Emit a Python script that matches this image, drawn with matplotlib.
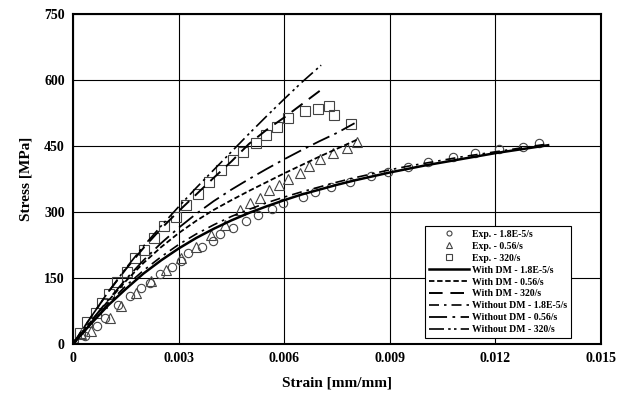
import matplotlib
matplotlib.use("Agg")
import matplotlib.pyplot as plt

plt.rcParams['font.family'] = ['Liberation Serif', 'DejaVu Serif']

# experimental points
exp_slow_x = [0, 0.00034, 0.00068, 0.00091, 0.00128, 0.00162, 0.00193, 0.00219, 0.00247, 0.00281,
              0.00307, 0.00327, 0.00366, 0.00398, 0.00418, 0.00455, 0.00491, 0.00526, 0.00565, 0.00597,
              0.00653, 0.00688, 0.00733, 0.00787, 0.00847, 0.00895, 0.00952, 0.01009, 0.0108, 0.01142,
              0.0121, 0.01278, 0.01324]
exp_slow_y = [0, 18, 41, 59, 89, 109, 127, 139, 159, 175,
              189, 207, 220, 234, 250, 264, 280, 293, 307, 320,
              334, 345, 357, 368, 382, 391, 402, 414, 425, 434,
              443, 448, 457]

exp_mid_x = [0, 0.00023, 0.0005, 0.00105, 0.00136, 0.00179, 0.00222, 0.00264, 0.00307, 0.0035,
             0.00392, 0.00432, 0.00474, 0.00503, 0.00531, 0.00557, 0.00585, 0.00611, 0.00645, 0.0067,
             0.00702, 0.00739, 0.00778, 0.00807]
exp_mid_y = [0, 23, 30, 59, 86, 116, 143, 168, 195, 220,
             248, 270, 305, 320, 332, 350, 361, 375, 389, 405,
             420, 434, 445, 459]

exp_fast_x = [0, 0.0002, 0.0004, 0.00065, 0.00082, 0.00102, 0.00125, 0.00153, 0.00176, 0.00202,
              0.0023, 0.00259, 0.00293, 0.00321, 0.00355, 0.00386, 0.0042, 0.00455, 0.00483, 0.0052,
              0.00548, 0.0058, 0.0061, 0.00659, 0.00696, 0.00727, 0.00741, 0.0079]
exp_fast_y = [0, 25, 50, 70, 93, 114, 141, 164, 195, 214,
              241, 268, 289, 316, 341, 368, 395, 418, 436, 457,
              475, 493, 514, 530, 534, 541, 520, 500]

# model curves
dm_slow_x = [0, 0.0005, 0.001, 0.0015, 0.002, 0.0025, 0.003, 0.0035, 0.004, 0.0045, 0.005, 0.0055, 0.006,
             0.0065, 0.007, 0.0075, 0.008, 0.0085, 0.009, 0.0095, 0.01, 0.0105, 0.011, 0.0115, 0.012,
             0.0125, 0.013, 0.0135]
dm_slow_y = [0, 45, 88, 125, 160, 190, 217, 241, 262, 281, 298, 313, 327,
             340, 351, 362, 372, 381, 390, 398, 406, 413, 420, 427, 434,
             440, 446, 452]
nodm_slow_y = [0, 47, 92, 132, 167, 198, 226, 250, 271, 290, 306, 321, 334,
               346, 357, 368, 378, 387, 396, 404, 411, 418, 425, 431, 437,
               443, 449, 455]

dm_mid_x = [0, 0.0005, 0.001, 0.0015, 0.002, 0.0025, 0.003, 0.0035, 0.004, 0.0045, 0.005, 0.0055, 0.006,
            0.0065, 0.007, 0.0075, 0.008, 0.0081]
dm_mid_y = [0, 50, 98, 143, 184, 220, 252, 280, 305, 327, 348, 368, 388,
            407, 426, 444, 462, 466]
nodm_mid_x = [0, 0.0005, 0.001, 0.0015, 0.002, 0.0025, 0.003, 0.0035, 0.004, 0.0045, 0.005, 0.0055, 0.006,
              0.0065, 0.007, 0.0075, 0.008]
nodm_mid_y = [0, 51, 100, 147, 190, 229, 264, 296, 325, 351, 375, 398, 420,
              441, 461, 480, 502]

dm_fast_x = [0, 0.0005, 0.001, 0.0015, 0.002, 0.0025, 0.003, 0.0035, 0.004, 0.0045, 0.005, 0.0055, 0.006,
             0.0065, 0.007, 0.00707]
dm_fast_y = [0, 60, 118, 170, 218, 262, 302, 340, 378, 415, 455, 487, 515,
             545, 575, 579]
nodm_fast_x = [0, 0.0005, 0.001, 0.0015, 0.002, 0.0025, 0.003, 0.0035, 0.004, 0.0045, 0.005, 0.0055, 0.006,
               0.0065, 0.00705]
nodm_fast_y = [0, 60, 118, 172, 222, 268, 312, 355, 396, 437, 478, 518, 557,
               595, 634]

fig = plt.figure(figsize=(6.24, 3.94), dpi=100)
ax = fig.add_axes([0.117, 0.127, 0.846, 0.837])

mk = dict(linestyle='none', markerfacecolor='none', markeredgecolor='#444444', markeredgewidth=0.8)
ax.plot(exp_slow_x, exp_slow_y, marker='o', markersize=6, label='Exp. - 1.8E-5/s', **mk)
ax.plot(exp_mid_x, exp_mid_y, marker='^', markersize=7, label='Exp. - 0.56/s', **mk)
ax.plot(exp_fast_x, exp_fast_y, marker='s', markersize=7, label='Exp. - 320/s', **mk)

ax.plot(dm_slow_x, dm_slow_y, color='black', lw=1.8, linestyle='-', label='With DM - 1.8E-5/s')
ax.plot(dm_mid_x, dm_mid_y, color='black', lw=1.3, linestyle=(0, (3, 1.5)), label='With DM - 0.56/s')
ax.plot(dm_fast_x, dm_fast_y, color='black', lw=1.4, linestyle=(0, (7, 4)), label='With DM - 320/s')
ax.plot(dm_slow_x, nodm_slow_y, color='black', lw=1.2, linestyle=(0, (6, 3, 1.5, 3)),
        label='Without DM - 1.8E-5/s')
ax.plot(nodm_mid_x, nodm_mid_y, color='black', lw=1.3, linestyle=(0, (10, 3, 1.5, 3)),
        label='Without DM - 0.56/s')
ax.plot(nodm_fast_x, nodm_fast_y, color='black', lw=1.2, linestyle=(0, (9, 2.5, 1.5, 2, 1.5, 2.5)),
        label='Without DM - 320/s')

ax.set_xlim(0, 0.015)
ax.set_ylim(0, 750)
xt = [0, 0.003, 0.006, 0.009, 0.012, 0.015]
ax.set_xticks(xt)
ax.set_xticklabels(['0', '0.003', '0.006', '0.009', '0.012', '0.015'])
ax.set_yticks([0, 150, 300, 450, 600, 750])
ax.tick_params(length=0, labelsize=10, pad=6)
for lab in ax.get_xticklabels() + ax.get_yticklabels():
    lab.set_fontweight('bold')
ax.grid(True, color='black', lw=0.8)
ax.set_axisbelow(True)
for s in ax.spines.values():
    s.set_linewidth(1.5)

ax.set_xlabel('Strain [mm/mm]', fontsize=11, fontweight='bold', labelpad=8)
ax.set_ylabel('Stress [MPa]', fontsize=11, fontweight='bold', labelpad=8)

leg = ax.legend(loc='upper left', bbox_to_anchor=(0.658, 0.371), frameon=True,
                fancybox=False, edgecolor='black', framealpha=1, handlelength=4.2,
                labelspacing=0.3, borderpad=0.35, handletextpad=0.3, markerscale=0.6,
                prop={'weight': 'bold', 'size': 7})
leg.get_frame().set_linewidth(0.8)

fig.savefig('out.png', dpi=100)
